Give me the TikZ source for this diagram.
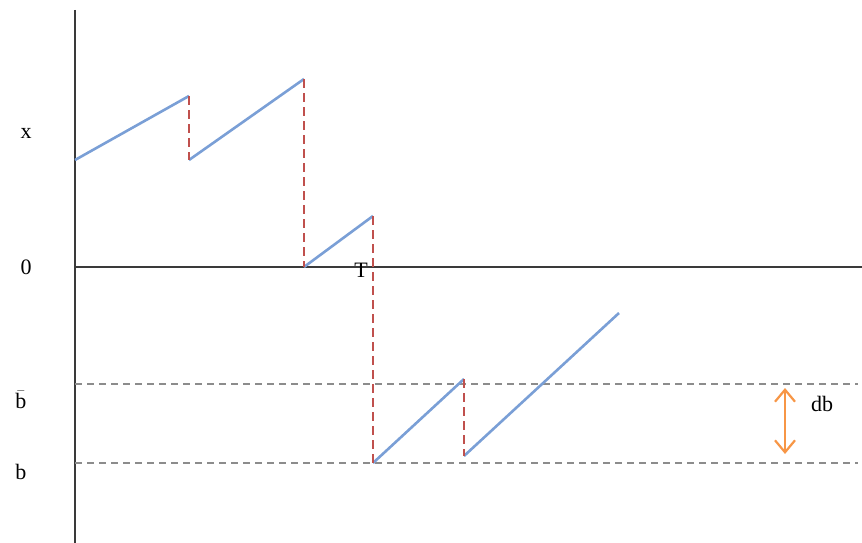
\documentclass[tikz,border=0pt]{standalone}
\usepackage{fontspec}
\setmainfont{Liberation Serif}
\usepackage{xcolor}
\usetikzlibrary{arrows.meta}
\definecolor{ink}{HTML}{3A3A3A}
\definecolor{path}{HTML}{7A9FD6}
\definecolor{jump}{HTML}{C0504D}
\definecolor{level}{HTML}{8C8C8C}
\definecolor{band}{HTML}{F79646}

\begin{document}
\begin{tikzpicture}[x=1pt,y=-1pt,
  axis/.style={draw=ink,line width=2pt},
  walk/.style={draw=path,line width=2.6pt},
  jumpline/.style={draw=jump,line width=2.8pt,dash pattern=on 9pt off 5pt},
  barrier/.style={draw=level,line width=2pt,dash pattern=on 7pt off 5pt},
  lab/.style={font=\fontsize{22}{25}\selectfont,text=black,inner sep=0pt}]
  \useasboundingbox (0,0) rectangle (862,543);
  % axes
  \coordinate (top) at (75,10);
  \coordinate (bot) at (75,543);
  \coordinate (orig) at (75,267);
  \coordinate (far) at (862,267);
  \draw[axis] (top) -- (bot);
  \draw[axis] (orig) -- (far);
  % barrier levels
  \coordinate (ub0) at (75,384);  \coordinate (ub1) at (858,384);
  \coordinate (lb0) at (75,463);  \coordinate (lb1) at (858,463);
  \draw[barrier] (ub0) -- (ub1);
  \draw[barrier] (lb0) -- (lb1);
  % sample path corners
  \coordinate (p0) at (75,160);
  \coordinate (p1) at (189,96);   \coordinate (q1) at (189,160);
  \coordinate (p2) at (304,79);   \coordinate (q2) at (304,267);
  \coordinate (p3) at (373,216);  \coordinate (q3) at (373,463);
  \coordinate (p4) at (464,379);  \coordinate (q4) at (464,456);
  \coordinate (p5) at (619,313);
  \draw[walk] (p0) -- (p1);
  \draw[walk] (q1) -- (p2);
  \draw[walk] (q2) -- (p3);
  \draw[walk] (q3) -- (p4);
  \draw[walk] (q4) -- (p5);
  \draw[jumpline] (p1) -- (q1);
  \draw[jumpline] (p2) -- (q2);
  \draw[jumpline] (p3) -- (q3);
  \draw[jumpline] (p4) -- (q4);
  % band width
  \coordinate (db0) at (785,388);
  \coordinate (db1) at (785,454);
  \draw[draw=band,line width=2.2pt,{Straight Barb[length=12pt,width=20pt]}-{Straight Barb[length=12pt,width=20pt]}] (db0) -- (db1);
  % labels
  \node[lab] (xlab) at (26,133) {x};
  \node[lab] (zlab) at (26,267) {0};
  \node[lab] (ublab) at (21,400) {$\bar{\mathrm{b}}$};
  \node[lab] (lblab) at (21,472) {b};
  \node[lab] (tlab) at (361,270) {T};
  \node[lab] (dblab) at (822,404) {db};
\end{tikzpicture}
\end{document}
